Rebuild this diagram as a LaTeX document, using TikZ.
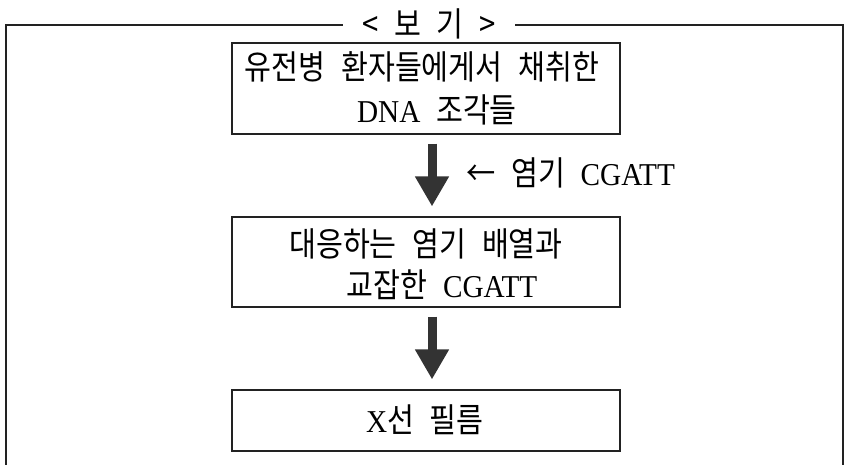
\documentclass[tikz,border=0pt]{standalone}
\usepackage{fontspec}
\setmainfont[FakeStretch=0.92,Scale=1.06]{Liberation Serif}
\newfontfamily\ko[FakeStretch=0.87,WordSpace=2.4,Scale=1.12]{Noto Sans CJK KR}
\usetikzlibrary{arrows.meta}
\definecolor{arrowgray}{HTML}{333333}
\definecolor{linegray}{HTML}{222222}
\tikzset{
  stepbox/.style={draw=linegray, line width=1.1pt, minimum width=388pt, inner sep=0pt},
  txt/.style={inner sep=0pt, anchor=base, font=\fontsize{30}{36}\selectfont},
  bigarrow/.style={draw=arrowgray, line width=9pt, -{Triangle[width=32pt,length=30pt]}, shorten <=9pt, shorten >=10pt},
  frameline/.style={draw=linegray, line width=1.1pt}
}
\begin{document}
\begin{tikzpicture}[x=1pt,y=-1pt]
\useasboundingbox (0,0) rectangle (849,464);
% frame
\node[txt] (title) at (429,36) {\ko < 보 기 >};
\coordinate (tl) at (343,25);
\coordinate (tr) at (515,25);
\coordinate (fl) at (6,25);
\coordinate (fr) at (843,25);
\coordinate (bl) at (6,466);
\coordinate (br) at (843,466);
\draw[frameline] (bl) -- (fl) -- (tl);
\draw[frameline] (tr) -- (fr) -- (br);
% boxes
\node[stepbox, minimum height=91pt] (b1) at (426,88.5) {};
\node[stepbox, minimum height=90pt] (b2) at (426,262) {};
\node[stepbox, minimum height=61pt] (b3) at (426,420.5) {};
% texts
\node[txt] (t1a) at (422,79) {\ko 유전병 환자들에게서 채취한};
\node[txt] (t1b) at (437,122) {DNA{\ko{} 조각들}};
\node[txt] (t2a) at (426,256) {\ko 대응하는 염기 배열과};
\node[txt] (t2b) at (442,297) {{\ko 교잡한 }CGATT};
\node[txt] (t3) at (425,432) {X{\ko 선 필름}};
\node[txt, anchor=base west] (lab) at (466,185) {{\ko ← 염기 }CGATT};
% arrows
\draw[bigarrow] ([xshift=6pt]b1.south) -- ([xshift=6pt]b2.north);
\draw[bigarrow] ([xshift=6pt]b2.south) -- ([xshift=6pt]b3.north);
\end{tikzpicture}
\end{document}
